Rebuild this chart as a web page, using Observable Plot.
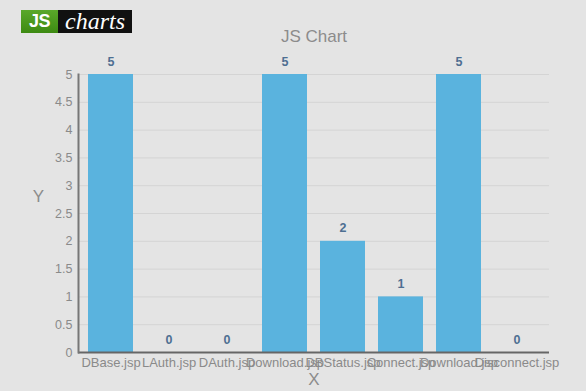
<!DOCTYPE html>
<html>
<head>
<meta charset="utf-8">
<script src="https://cdn.jsdelivr.net/npm/d3@7"></script>
<script src="https://cdn.jsdelivr.net/npm/@observablehq/plot@0.6"></script>
<style>
  html, body { margin: 0; padding: 0; background: #e4e4e4; }
  #wrap { position: relative; width: 586px; height: 391px; overflow: hidden; background: #e4e4e4; }
  #logo { position: absolute; left: 21px; top: 10px; height: 23px; display: flex; z-index: 2; }
  #logo .js { background: linear-gradient(#5aa82a, #3d8a12); color: #fff; font: bold 18px "Liberation Sans", Arial, sans-serif;
              width: 37px; line-height: 23px; text-align: center; letter-spacing: -0.5px; }
  #logo .ch { background: #111; color: #fff; font: italic 24px "Liberation Serif", "DejaVu Serif", serif;
              width: 74px; line-height: 22px; text-align: center; }
  #wrap svg { position: absolute; left: 0; top: 0; }
</style>
</head>
<body>
<div id="wrap">
  <div id="logo"><span class="js">JS</span><span class="ch">charts</span></div>
</div>
<script>
// Pages and their hit counts
const pages = ["DBase.jsp", "LAuth.jsp", "DAuth.jsp", "Download.jsp", "DBStatus.jsp", "Connect.jsp", "Download.jsp", "Disconnect.jsp"];
const hits = [5, 0, 0, 5, 2, 1, 5, 0];
const yTicks = [0, 0.5, 1, 1.5, 2, 2.5, 3, 3.5, 4, 4.5, 5];

const rows = pages.map((p, i) => ({i, page: p, v: hits[i]}));
const font = "'Liberation Sans', Arial, sans-serif";

const chart = Plot.plot({
  width: 586,
  height: 391,
  marginTop: 74,
  marginBottom: 39,
  marginLeft: 78,
  marginRight: 37,
  style: {background: "transparent", fontFamily: font, overflow: "visible"},
  x: {type: "band", domain: d3.range(pages.length), paddingInner: 0.216, paddingOuter: 0.108},
  y: {domain: [0, 5]},
  marks: [
    Plot.gridY(yTicks, {stroke: "#d4d4d4", strokeOpacity: 1}),
    Plot.barY(rows, {x: "i", y: "v", fill: "#5ab3de"}),
    Plot.ruleY([0], {stroke: "#666", strokeWidth: 2}),
    Plot.frame({anchor: "left", stroke: "#777", strokeWidth: 2}),
    Plot.axisY(yTicks, {tickSize: 0, tickPadding: 6, tickFormat: (d) => String(d), fill: "#8a8a8a", fontSize: 12.5, label: null, style: {letterSpacing: "0.8px"}}),
    Plot.axisX({tickSize: 0, tickPadding: 5, tickFormat: (i) => pages[i], fill: "#8a8a8a", fontSize: 13, label: null, style: {letterSpacing: "1.2px"}}),
    Plot.text(rows, {x: "i", y: "v", text: (d) => String(d.v), dy: -13, fill: "#4e6f92", fontWeight: "bold", fontSize: 12.5}),
    Plot.text(["JS Chart"], {frameAnchor: "top", lineAnchor: "middle", dy: -38, fill: "#8c8c8c", fontSize: 17, style: {letterSpacing: "1px"}}),
    Plot.text(["X"], {frameAnchor: "bottom", lineAnchor: "middle", dy: 27, fill: "#8c8c8c", fontSize: 17}),
    Plot.text(["Y"], {frameAnchor: "left", textAnchor: "middle", dx: -40, dy: -17, fill: "#8c8c8c", fontSize: 17})
  ]
});

document.getElementById("wrap").appendChild(chart);
</script>
</body>
</html>
